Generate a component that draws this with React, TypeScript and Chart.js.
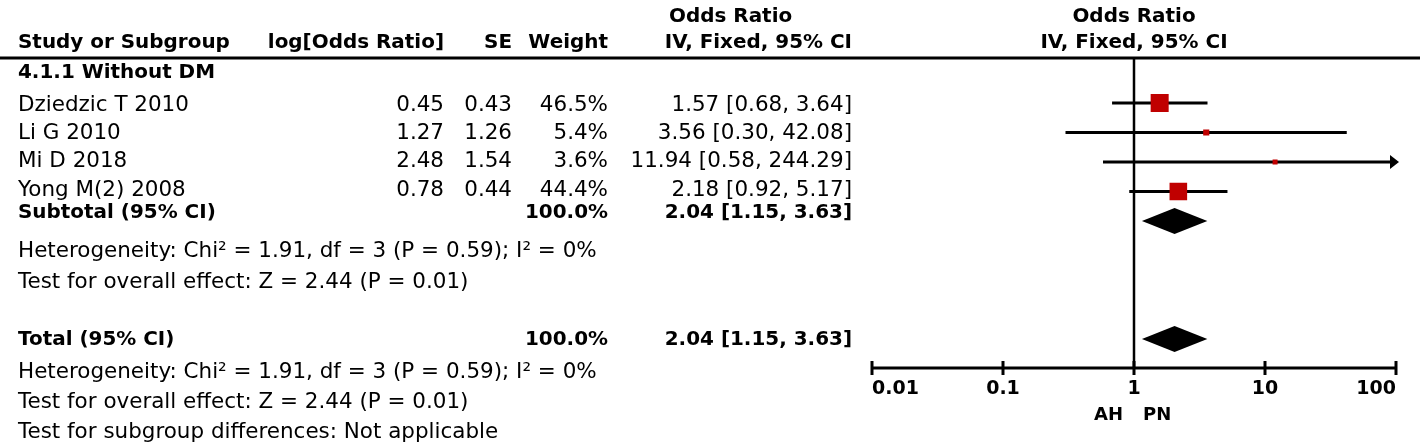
import React, { useEffect, useRef } from "react";
import { Chart, registerables } from "chart.js";

Chart.register(...registerables);

// ---------- data ----------
const groupTitle = "4.1.1 Without DM";
const studies = ["Dziedzic T 2010", "Li G 2010", "Mi D 2018", "Yong M(2) 2008"];
const logOR = ["0.45", "1.27", "2.48", "0.78"];
const seVals = ["0.43", "1.26", "1.54", "0.44"];
const weights = [46.5, 5.4, 3.6, 44.4];
const orVals = [1.57, 3.56, 11.94, 2.18];
const ciLow = [0.68, 0.3, 0.58, 0.92];
const ciHigh = [3.64, 42.08, 244.29, 5.17];
const studyRows = [1, 2, 3, 4];

const pooledLabels = ["Subtotal (95% CI)", "Total (95% CI)"];
const pooledWeight = [100.0, 100.0];
const pooledOR = [2.04, 2.04];
const pooledLow = [1.15, 1.15];
const pooledHigh = [3.63, 3.63];
const pooledRows = [5, 9];

const hetText = "Heterogeneity: Chi² = 1.91, df = 3 (P = 0.59); I² = 0%";
const overallText = "Test for overall effect: Z = 2.44 (P = 0.01)";
const subgroupText = "Test for subgroup differences: Not applicable";

const xTicks = [0.01, 0.1, 1, 10, 100];
const xTickLabels = ["0.01", "0.1", "1", "10", "100"];
const favourLeft = "AH";
const favourRight = "PN";

// ---------- layout ----------
const W = 1424;
const H = 444;
const FONT = "'DejaVu Sans', sans-serif";
const PLOT_LEFT = 872;
const PLOT_RIGHT = 1396;
const ROW_MIN = 0;
const ROW_MAX = 10;
const PLOT_TOP = 73.5; // pixel of row 0
const PLOT_BOTTOM = 368.5; // pixel of row 10 (axis)
const HEADER_LINE_Y = 58;
const AXIS_Y = 368;
const LEFT_X = 18;
const COL_LOG = 444;
const COL_SE = 512;
const COL_W = 608;
const COL_OR = 852;
const OR_HDR_X = 669;
const RED = "#C00000";

const fmt2 = (v: number) => v.toFixed(2);
const ciText = (o: number, l: number, h: number) => `${fmt2(o)} [${fmt2(l)}, ${fmt2(h)}]`;

function fitSize(ctx: CanvasRenderingContext2D, text: string, weight: string, target: number) {
  ctx.font = `${weight} 100px ${FONT}`;
  const w = ctx.measureText(text).width;
  return (100 * target) / w;
}

const forestPlugin = {
  id: "forest",
  beforeDatasetsDraw(chart: any) {
    const ctx: CanvasRenderingContext2D = chart.ctx;
    const xs = chart.scales.x;
    const ys = chart.scales.y;
    const px = (v: number) => xs.getPixelForValue(v);
    const py = (v: number) => ys.getPixelForValue(v);
    const xmin = xTicks[0];
    const xmax = xTicks[xTicks.length - 1];
    ctx.save();
    ctx.strokeStyle = "#000";
    ctx.fillStyle = "#000";
    ctx.lineCap = "butt";

    // header rule
    ctx.lineWidth = 3;
    ctx.beginPath();
    ctx.moveTo(0, HEADER_LINE_Y);
    ctx.lineTo(1420, HEADER_LINE_Y);
    ctx.stroke();

    // line of no effect
    ctx.lineWidth = 2.5;
    ctx.beginPath();
    ctx.moveTo(px(1), HEADER_LINE_Y);
    ctx.lineTo(px(1), AXIS_Y);
    ctx.stroke();

    // whiskers
    ctx.lineWidth = 3;
    studies.forEach((_, i) => {
      const y = py(studyRows[i]);
      const x1 = px(Math.max(ciLow[i], xmin));
      const over = ciHigh[i] > xmax;
      const x2 = px(Math.min(ciHigh[i], xmax));
      ctx.beginPath();
      ctx.moveTo(x1, y);
      ctx.lineTo(over ? x2 - 3 : x2, y);
      ctx.stroke();
      if (over) {
        ctx.beginPath();
        ctx.moveTo(x2 + 3, y);
        ctx.lineTo(x2 - 6, y - 7);
        ctx.lineTo(x2 - 6, y + 7);
        ctx.closePath();
        ctx.fill();
      }
    });

    // diamonds
    pooledRows.forEach((r, i) => {
      const y = py(r);
      ctx.beginPath();
      ctx.moveTo(px(pooledLow[i]), y);
      ctx.lineTo(px(pooledOR[i]), y - 13);
      ctx.lineTo(px(pooledHigh[i]), y);
      ctx.lineTo(px(pooledOR[i]), y + 13);
      ctx.closePath();
      ctx.fill();
    });

    // axis
    ctx.lineWidth = 3;
    ctx.beginPath();
    ctx.moveTo(px(xmin), AXIS_Y);
    ctx.lineTo(px(xmax), AXIS_Y);
    ctx.stroke();
    xTicks.forEach((t) => {
      ctx.beginPath();
      ctx.moveTo(px(t), AXIS_Y - 7);
      ctx.lineTo(px(t), AXIS_Y + 7);
      ctx.stroke();
    });
    ctx.restore();
  },
  afterDraw(chart: any) {
    const ctx: CanvasRenderingContext2D = chart.ctx;
    const xs = chart.scales.x;
    const px = (v: number) => xs.getPixelForValue(v);
    const regSize = fitSize(ctx, hetText, "normal", 579);
    const boldSize = fitSize(ctx, "Study or Subgroup", "bold", 212);
    const REG = `normal ${regSize}px ${FONT}`;
    const BOLD = `bold ${boldSize}px ${FONT}`;
    ctx.save();
    ctx.fillStyle = "#000";
    ctx.textBaseline = "middle";
    const t = (s: string, x: number, y: number, font: string, align: CanvasTextAlign) => {
      ctx.font = font;
      ctx.textAlign = align;
      ctx.fillText(s, x, y);
    };
    // headers
    t("Odds Ratio", OR_HDR_X, 17, BOLD, "left");
    t("Odds Ratio", px(1), 17, BOLD, "center");
    t("Study or Subgroup", LEFT_X, 43, BOLD, "left");
    t("log[Odds Ratio]", COL_LOG, 43, BOLD, "right");
    t("SE", COL_SE, 43, BOLD, "right");
    t("Weight", COL_W, 43, BOLD, "right");
    t("IV, Fixed, 95% CI", COL_OR, 43, BOLD, "right");
    t("IV, Fixed, 95% CI", px(1), 43, BOLD, "center");
    // group
    t(groupTitle, LEFT_X, 73, BOLD, "left");
    const studyY = [105, 133, 161, 190];
    studies.forEach((s, i) => {
      const y = studyY[i];
      t(s, LEFT_X, y, REG, "left");
      t(logOR[i], COL_LOG, y, REG, "right");
      t(seVals[i], COL_SE, y, REG, "right");
      t(`${weights[i].toFixed(1)}%`, COL_W, y, REG, "right");
      t(ciText(orVals[i], ciLow[i], ciHigh[i]), COL_OR, y, REG, "right");
    });
    const pooledY = [213, 340];
    pooledLabels.forEach((s, i) => {
      const y = pooledY[i];
      t(s, LEFT_X, y, BOLD, "left");
      t(`${pooledWeight[i].toFixed(1)}%`, COL_W, y, BOLD, "right");
      t(ciText(pooledOR[i], pooledLow[i], pooledHigh[i]), COL_OR, y, BOLD, "right");
    });
    t(hetText, LEFT_X, 251, REG, "left");
    t(overallText, LEFT_X, 282, REG, "left");
    t(hetText, LEFT_X, 372, REG, "left");
    t(overallText, LEFT_X, 402, REG, "left");
    t(subgroupText, LEFT_X, 432, REG, "left");

    // tick labels
    const TICKF = `bold 19px ${FONT}`;
    xTicks.forEach((v, i) => {
      const align: CanvasTextAlign = i === 0 ? "left" : i === xTicks.length - 1 ? "right" : "center";
      t(xTickLabels[i], px(v), 389, TICKF, align);
    });
    const FAVF = `bold 18px ${FONT}`;
    t(favourLeft, px(1) - 11, 415, FAVF, "right");
    t(favourRight, px(1) + 9, 415, FAVF, "left");
    ctx.restore();
  },
};

export default function App() {
  const ref = useRef<HTMLCanvasElement | null>(null);
  useEffect(() => {
    document.body.style.margin = "0";
    document.body.style.overflow = "hidden";
    const canvas = ref.current;
    if (!canvas) return;
    const chart = new Chart(canvas, {
      type: "scatter",
      data: {
        datasets: [
          {
            label: "Studies",
            data: orVals.map((v, i) => ({ x: v, y: studyRows[i] })),
            pointStyle: "rect",
            pointRadius: weights.map((w) => (2.64 * Math.sqrt(w)) / Math.SQRT2),
            pointHoverRadius: weights.map((w) => (2.64 * Math.sqrt(w)) / Math.SQRT2),
            backgroundColor: RED,
            borderColor: RED,
            borderWidth: 0,
          },
        ],
      },
      options: {
        animation: false,
        responsive: false,
        maintainAspectRatio: false,
        devicePixelRatio: 1,
        events: [],
        layout: {
          padding: { left: PLOT_LEFT, right: W - PLOT_RIGHT, top: PLOT_TOP, bottom: H - PLOT_BOTTOM },
        },
        scales: {
          x: { type: "logarithmic", min: xTicks[0], max: xTicks[xTicks.length - 1], display: false },
          y: { type: "linear", min: ROW_MIN, max: ROW_MAX, reverse: true, display: false },
        },
        plugins: { legend: { display: false }, tooltip: { enabled: false } },
      },
      plugins: [forestPlugin],
    });
    return () => chart.destroy();
  }, []);
  return <canvas ref={ref} width={W} height={H} style={{ display: "block" }} />;
}
